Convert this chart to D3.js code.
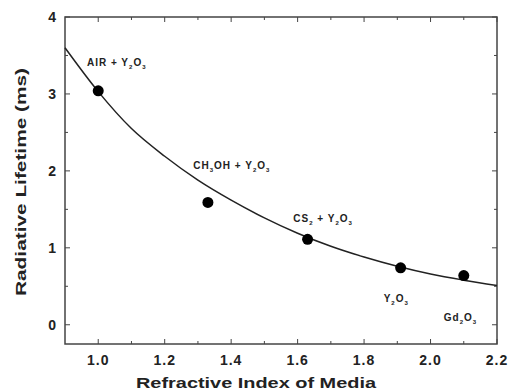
<!DOCTYPE html>
<html>
<head>
<meta charset="utf-8">
<script src="https://cdn.jsdelivr.net/npm/d3@7"></script>
<style>
  body { margin: 0; background: #fff; }
  text { font-family: Arial, "Liberation Sans", sans-serif; font-weight: bold; fill: #222; }
</style>
</head>
<body>
<div id="chart"></div>
<script>
// measured points
var refIndex = [1.0, 1.33, 1.63, 1.91, 2.10];
var lifetime = [3.04, 1.59, 1.11, 0.74, 0.64];
var sampleNames = [
  [["AIR + Y", ""], ["2", "sub"], ["O", ""], ["3", "sub"]],
  [["CH", ""], ["3", "sub"], ["OH + Y", ""], ["2", "sub"], ["O", ""], ["3", "sub"]],
  [["CS", ""], ["2", "sub"], [" + Y", ""], ["2", "sub"], ["O", ""], ["3", "sub"]],
  [["Y", ""], ["2", "sub"], ["O", ""], ["3", "sub"]],
  [["Gd", ""], ["2", "sub"], ["O", ""], ["3", "sub"]]
];
// label anchor in data units
var labelN = [0.966, 1.286, 1.587, 1.859, 2.04];
var labelT = [3.36, 2.02, 1.34, 0.30, 0.05];

// fitted curve
var fitN = [0.9, 1.0, 1.1, 1.2, 1.3, 1.4, 1.5, 1.6, 1.7, 1.8, 1.9, 2.0, 2.1, 2.2];
var fitT = [3.60, 3.03, 2.55, 2.19, 1.88, 1.62, 1.39, 1.19, 1.02, 0.88, 0.76, 0.66, 0.58, 0.51];

var xTicks = [1.0, 1.2, 1.4, 1.6, 1.8, 2.0, 2.2];
var yTicks = [0, 1, 2, 3, 4];

var margin = { top: 17, right: 15, bottom: 47, left: 65 },
  width = 512 - margin.left - margin.right,
  height = 391 - margin.top - margin.bottom;

var svg = d3.select("#chart")
  .append("svg")
  .attr("width", 512)
  .attr("height", 391)
  .append("g")
  .attr("transform", "translate(" + margin.left + "," + margin.top + ")");

var x = d3.scaleLinear().domain([0.9, 2.2]).range([0, width]);
var y = d3.scaleLinear().domain([-0.25, 4]).range([height, 0]);

var stroke = "#444";

// minor + major ticks, inward on all four sides
var xMinor = d3.range(1.0, 2.21, 0.1);
var yMinor = d3.range(0, 4.01, 0.5);

function tickLen(v, step) { return Math.abs(v / step - Math.round(v / step)) < 1e-6 ? 5 : 3; }

svg.selectAll(".xt").data(xMinor).enter().append("line")
  .attr("x1", d => x(d)).attr("x2", d => x(d))
  .attr("y1", height).attr("y2", d => height - tickLen(d, 0.2))
  .attr("stroke", stroke);
svg.selectAll(".xtt").data(xMinor).enter().append("line")
  .attr("x1", d => x(d)).attr("x2", d => x(d))
  .attr("y1", 0).attr("y2", d => tickLen(d, 0.2))
  .attr("stroke", stroke);
svg.selectAll(".yt").data(yMinor).enter().append("line")
  .attr("x1", 0).attr("x2", d => tickLen(d, 1))
  .attr("y1", d => y(d)).attr("y2", d => y(d))
  .attr("stroke", stroke);
svg.selectAll(".ytr").data(yMinor).enter().append("line")
  .attr("x1", width).attr("x2", d => width - tickLen(d, 1))
  .attr("y1", d => y(d)).attr("y2", d => y(d))
  .attr("stroke", stroke);

svg.append("rect")
  .attr("width", width).attr("height", height)
  .attr("fill", "none").attr("stroke", stroke).attr("stroke-width", 1.5);

svg.selectAll(".xl").data(xTicks).enter().append("text")
  .attr("x", d => x(d)).attr("y", height + 21)
  .attr("text-anchor", "middle").attr("font-size", 14)
  .attr("letter-spacing", 1)
  .text(d => d.toFixed(1));
svg.selectAll(".yl").data(yTicks).enter().append("text")
  .attr("x", -9).attr("y", d => y(d) + 5)
  .attr("text-anchor", "end").attr("font-size", 14)
  .text(d => d);

svg.append("text")
  .attr("x", width / 2 - 25).attr("y", height + 44)
  .attr("text-anchor", "middle").attr("font-size", 15)
  .attr("textLength", 240).attr("lengthAdjust", "spacingAndGlyphs")
  .text("Refractive Index of Media");
svg.append("text")
  .attr("transform", "translate(-39,165) rotate(-90)")
  .attr("text-anchor", "middle").attr("font-size", 15)
  .attr("textLength", 228).attr("lengthAdjust", "spacingAndGlyphs")
  .text("Radiative Lifetime (ms)");

// fit line
var line = d3.line()
  .x((d, i) => x(fitN[i]))
  .y(d => y(d))
  .curve(d3.curveMonotoneX);
svg.append("path")
  .datum(fitT)
  .attr("d", line)
  .attr("fill", "none").attr("stroke", "#222").attr("stroke-width", 1.5);

svg.selectAll(".pt").data(lifetime).enter().append("circle")
  .attr("cx", (d, i) => x(refIndex[i]))
  .attr("cy", d => y(d))
  .attr("r", 5.5)
  .attr("fill", "#000");

// sample labels with subscripts
sampleNames.forEach(function (parts, i) {
  var t = svg.append("text")
    .attr("x", x(labelN[i])).attr("y", y(labelT[i]))
    .attr("font-size", 10).attr("letter-spacing", 1).attr("fill", "#333");
  parts.forEach(function (p) {
    var s = t.append("tspan").text(p[0]);
    if (p[1] === "sub") s.attr("font-size", 6).attr("dy", 3);
    else s.attr("dy", t.selectAll("tspan").size() > 1 ? -3 : 0);
  });
});
</script>
</body>
</html>
